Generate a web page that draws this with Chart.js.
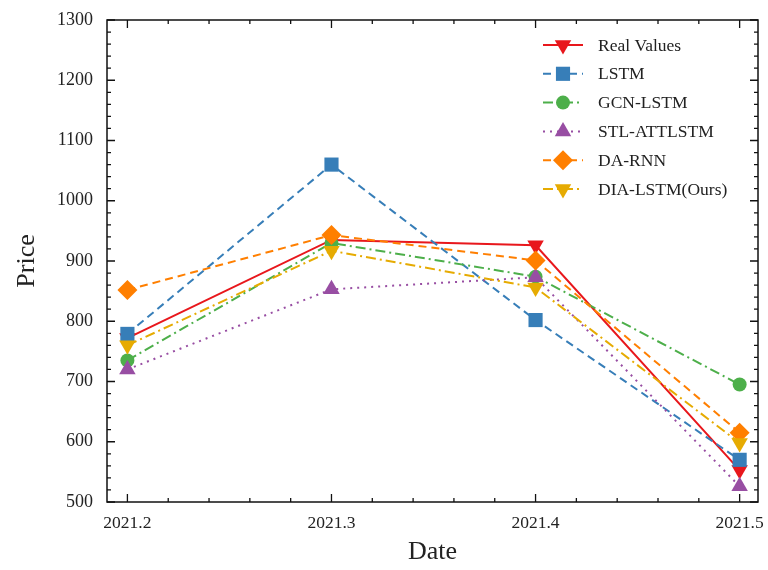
<!DOCTYPE html>
<html>
<head>
<meta charset="utf-8">
<script src="https://cdn.jsdelivr.net/npm/chart.js@4.4.1/dist/chart.umd.min.js"></script>
<style>
  html, body { margin: 0; padding: 0; background: #fff; }
  #wrap { width: 768px; height: 570px; }
</style>
</head>
<body>
<div id="wrap"><canvas id="c"></canvas></div>
<script>
// data
const dates = ['2021.2', '2021.3', '2021.4', '2021.5'];
const yTicks = [500, 600, 700, 800, 900, 1000, 1100, 1200, 1300];

const realValues = [772, 935, 926, 553];
const lstm       = [779, 1060, 802, 570];
const gcnLstm    = [735, 930, 874, 695];
const stlAttLstm = [720, 853, 873, 526];
const daRnn      = [852, 943, 901, 615];
const diaLstm    = [760, 917, 856, 598];

const serif = '"Liberation Serif", "DejaVu Serif", serif';

function pts(arr) {
  return arr.map((v, i) => ({ x: i, y: v }));
}

function series(label, values, color, dash, style, radius, rot, order) {
  return {
    label: label,
    data: pts(values),
    borderColor: color,
    backgroundColor: color,
    borderWidth: 2,
    borderDash: dash,
    pointStyle: style,
    pointRadius: radius,
    pointHoverRadius: radius,
    pointRotation: rot,
    pointBorderWidth: 0,
    tension: 0,
    fill: false,
    order: order
  };
}

const datasets = [
  series('Real Values', realValues, '#e8171c', [], 'triangle', 9.5, 180, 6),
  series('LSTM', lstm, '#377eb8', [8, 5], 'rect', 10, 0, 5),
  series('GCN-LSTM', gcnLstm, '#4daf4a', [10, 4, 2, 4], 'circle', 7, 0, 4),
  series('STL-ATTLSTM', stlAttLstm, '#984ea3', [2, 5], 'triangle', 9.5, 0, 3),
  series('DA-RNN', daRnn, '#ff7f00', [8, 5], 'rectRot', 10, 0, 2),
  series('DIA-LSTM(Ours)', diaLstm, '#e6ab02', [10, 4, 2, 4], 'triangle', 9.5, 180, 1)
];

// inward ticks, frame and legend like the matplotlib figure
const framePlugin = {
  id: 'frame',
  afterDatasetsDraw(chart) {
    const ctx = chart.ctx;
    const a = chart.chartArea;
    const xs = chart.scales.x, ys = chart.scales.y;
    ctx.save();
    ctx.strokeStyle = '#111';
    ctx.lineWidth = 1.5;
    ctx.strokeRect(a.left, a.top, a.right - a.left, a.bottom - a.top);

    ctx.lineWidth = 1.3;
    for (let k = 0; k <= 15; k++) {
      const v = k * 0.2;
      const px = xs.getPixelForValue(v);
      if (px < a.left || px > a.right) continue;
      const len = (k % 5 === 0) ? 8 : 4;
      ctx.beginPath();
      ctx.moveTo(px, a.bottom); ctx.lineTo(px, a.bottom - len);
      ctx.moveTo(px, a.top); ctx.lineTo(px, a.top + len);
      ctx.stroke();
    }
    for (let v = 500; v <= 1300; v += 20) {
      const py = ys.getPixelForValue(v);
      const len = (v % 100 === 0) ? 8 : 4;
      ctx.beginPath();
      ctx.moveTo(a.left, py); ctx.lineTo(a.left + len, py);
      ctx.moveTo(a.right, py); ctx.lineTo(a.right - len, py);
      ctx.stroke();
    }

    // legend
    const lx = 543, ly = 45, step = 28.8;
    ctx.font = '17.5px ' + serif;
    ctx.textBaseline = 'middle';
    chart.data.datasets.forEach((ds, i) => {
      const y = ly + i * step;
      ctx.strokeStyle = ds.borderColor;
      ctx.lineWidth = 2;
      ctx.setLineDash(ds.borderDash);
      ctx.beginPath();
      ctx.moveTo(lx, y); ctx.lineTo(lx + 40, y);
      ctx.stroke();
      ctx.setLineDash([]);
      ctx.fillStyle = ds.backgroundColor;
      Chart.helpers.drawPoint(ctx, {
        pointStyle: ds.pointStyle,
        radius: ds.pointRadius,
        rotation: ds.pointRotation,
        borderWidth: 0
      }, lx + 20, y);
      ctx.fillStyle = '#222';
      ctx.fillText(ds.label, lx + 55, y + 1);
    });
    ctx.restore();
  }
};

new Chart(document.getElementById('c'), {
  type: 'line',
  data: { datasets: datasets },
  options: {
    responsive: true,
    maintainAspectRatio: false,
    animation: false,
    layout: { padding: { top: 20, right: 10, left: 0, bottom: 0 } },
    plugins: {
      legend: { display: false },
      tooltip: { enabled: false }
    },
    scales: {
      x: {
        type: 'linear',
        min: -0.1,
        max: 3.09,
        grid: { display: false, drawTicks: false },
        border: { display: false },
        afterBuildTicks: s => { s.ticks = dates.map((d, i) => ({ value: i })); },
        afterFit: s => { s.height = 68; s.paddingLeft = 0; s.paddingRight = 0; },
        ticks: {
          padding: 11,
          color: '#222',
          font: { family: serif, size: 17.5 },
          callback: v => dates[v]
        },
        title: {
          display: true,
          text: 'Date',
          color: '#222',
          font: { family: serif, size: 26 },
          padding: { top: 0, bottom: 2 }
        }
      },
      y: {
        min: 500,
        max: 1300,
        grid: { display: false, drawTicks: false },
        border: { display: false },
        afterBuildTicks: s => { s.ticks = yTicks.map(v => ({ value: v })); },
        afterFit: s => { s.width = 107; s.paddingTop = 0; s.paddingBottom = 0; },
        ticks: {
          padding: 14,
          color: '#222',
          font: { family: serif, size: 18 },
          callback: v => String(v)
        },
        title: {
          display: true,
          text: 'Price',
          color: '#222',
          font: { family: serif, size: 26 },
          padding: { top: 12, bottom: 0 }
        }
      }
    }
  },
  plugins: [framePlugin]
});
</script>
</body>
</html>
